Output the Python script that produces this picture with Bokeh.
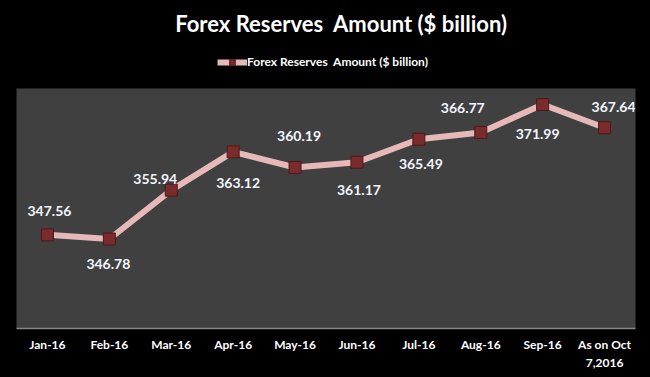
from bokeh.plotting import figure
from bokeh.layouts import column
from bokeh.models import ColumnDataSource, LabelSet, Legend, LegendItem, Range1d, Label
from bokeh.core.properties import value
from bokeh.embed import file_html
from bokeh.resources import INLINE

months = ["Jan-16", "Feb-16", "Mar-16", "Apr-16", "May-16", "Jun-16",
          "Jul-16", "Aug-16", "Sep-16", "As on Oct\n7,2016"]
reserves = [347.56, 346.78, 355.94, 363.12, 360.19, 361.17, 365.49, 366.77, 371.99, 367.64]
value_labels = ["%.2f" % v for v in reserves]

# label placement (screen pixels), style only
label_dx = [2, -1, -16, 5, 4, 2, 2, -18, -5, 9]
label_dy = [24, -25, 11, -31, 31, -28, -25, 24, -29, 21]

series_name = "Forex Reserves\u00a0 Amount ($ billion)"
chart_title = "Forex Reserves\u00a0 Amount ($ billion)"
FONT = "Lato"
LINE_COLOR = "#e6b9b8"
MARK_FILL = "#7a2c2c"
MARK_LINE = "#4d1717"
BLACK_BG = {"background-color": "black"}

# ---------- header: title + legend ----------
header = figure(width=650, height=88, frame_width=650, frame_height=88,
                x_range=Range1d(0, 1), y_range=Range1d(0, 1),
                x_axis_type=None, y_axis_type=None, output_backend="svg",
                toolbar_location=None, background_fill_color="black",
                border_fill_color="black", outline_line_color=None,
                min_border_left=0, min_border_right=0, min_border_top=0, min_border_bottom=0)
header.grid.visible = False
header.outline_line_alpha = 0
header.styles = BLACK_BG

title = Label(x=0.5, y=0.74, text=chart_title, text_color="white",
              text_font=FONT, text_font_style="bold", text_font_size="22px",
              text_align="center", text_baseline="middle")
header.add_layout(title)

nan = float("nan")
dummy = ColumnDataSource(dict(x=[nan], y=[nan]))
h_line = header.line("x", "y", source=dummy, line_color=LINE_COLOR, line_width=6)
h_pts = header.scatter("x", "y", source=dummy, marker="square", size=12,
                       fill_color=MARK_FILL, line_color=MARK_LINE, line_width=1)
legend = Legend(items=[LegendItem(label=series_name, renderers=[h_line, h_pts], index=0)],
                location=(217, 19), orientation="horizontal",
                background_fill_alpha=0, border_line_color=None,
                label_text_color="white", label_text_font=FONT,
                label_text_font_style="bold", label_text_font_size="12px",
                glyph_width=30, glyph_height=14, label_standoff=0, padding=0, margin=0)
header.add_layout(legend, "center")

# ---------- main chart ----------
src = ColumnDataSource(dict(x=months, y=reserves, lab=value_labels,
                            dx=label_dx, dy=label_dy))

p = figure(width=650, height=289, frame_width=619, frame_height=240,
           x_range=months, y_range=Range1d(330, 375),
           output_backend="svg", toolbar_location=None,
           background_fill_color="#404040", border_fill_color="black",
           outline_line_color=None,
           min_border_left=16, min_border_right=15, min_border_top=0, min_border_bottom=49)
p.styles = BLACK_BG

p.yaxis.visible = False
p.xgrid.grid_line_color = None
p.ygrid.grid_line_color = None

ax = p.xaxis[0]
ax.axis_line_color = "#888888"
ax.axis_line_width = 1.5
ax.major_tick_line_color = None
ax.minor_tick_line_color = None
ax.major_label_text_color = "white"
ax.major_label_text_font = FONT
ax.major_label_text_font_style = "bold"
ax.major_label_text_font_size = "12px"
ax.major_label_standoff = 2

p.line("x", "y", source=src, line_color=LINE_COLOR, line_width=6)
p.scatter("x", "y", source=src, marker="square", size=12,
          fill_color=MARK_FILL, line_color=MARK_LINE, line_width=1)

labels = LabelSet(x="x", y="y", text="lab", source=src, x_offset="dx", y_offset="dy",
                  text_color="#f4f6ff", text_font=value(FONT), text_font_style="bold",
                  text_font_size="14px", text_align="center", text_baseline="middle")
p.add_layout(labels)

layout = column(header, p, spacing=0)
layout.styles = BLACK_BG
open("out.html", "w").write(file_html(layout, INLINE))
